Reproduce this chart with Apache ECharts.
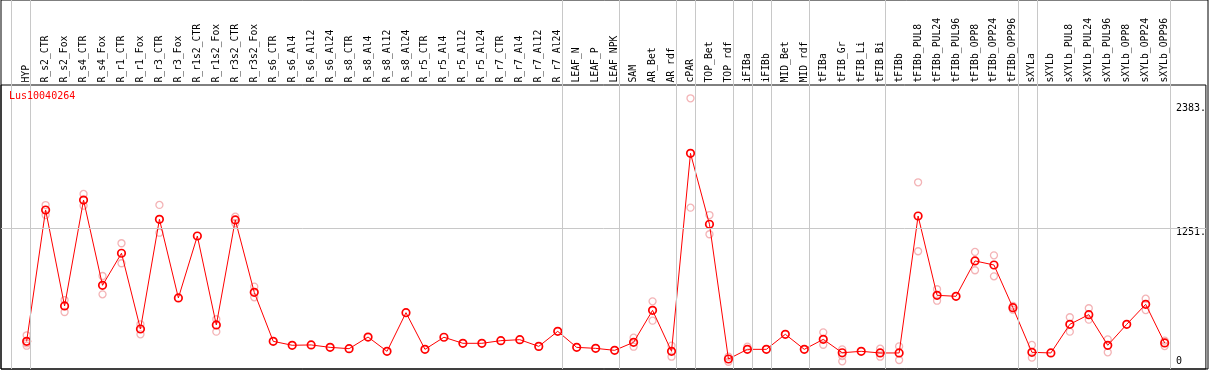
<!DOCTYPE html>
<html>
<head>
<meta charset="utf-8">
<script src="https://cdn.jsdelivr.net/npm/echarts@6/dist/echarts.min.js"></script>
<style>
html,body{margin:0;padding:0;background:#fff;}
#chart{width:1209px;height:370px;}
</style>
</head>
<body>
<div id="chart"></div>
<script>
const geneName = 'Lus10040264';
const categories = ['HYP','R_s2_CTR','R_s2_Fox','R_s4_CTR','R_s4_Fox','R_r1_CTR','R_r1_Fox','R_r3_CTR','R_r3_Fox','R_r1s2_CTR','R_r1s2_Fox','R_r3s2_CTR','R_r3s2_Fox','R_s6_CTR','R_s6_Al4','R_s6_Al12','R_s6_Al24','R_s8_CTR','R_s8_Al4','R_s8_Al12','R_s8_Al24','R_r5_CTR','R_r5_Al4','R_r5_Al12','R_r5_Al24','R_r7_CTR','R_r7_Al4','R_r7_Al12','R_r7_Al24','LEAF_N','LEAF_P','LEAF_NPK','SAM','AR_Bet','AR_rdf','cPAR','TOP_Bet','TOP_rdf','iFIBa','iFIBb','MID_Bet','MID_rdf','tFIBa','tFIB_Gr','tFIB_Li','tFIB_Bi','tFIBb','tFIBb_PUL8','tFIBb_PUL24','tFIBb_PUL96','tFIBb_OPP8','tFIBb_OPP24','tFIBb_OPP96','sXYLa','sXYLb','sXYLb_PUL8','sXYLb_PUL24','sXYLb_PUL96','sXYLb_OPP8','sXYLb_OPP24','sXYLb_OPP96'];
const meanValues = [222,1418,544,1508,732,1024,334,1333,617,1181,371,1327,668,222,186,189,167,155,261,131,483,149,259,204,204,228,237,176,313,167,158,140,213,504,131,1934,1288,61,149,149,286,149,240,118,131,116,116,1363,641,632,954,917,528,122,116,377,465,186,377,559,207];
const rep1 = [277,1463,598,1564,817,1115,377,1464,null,null,423,1357,720,null,null,null,null,null,null,null,null,null,null,null,null,null,null,null,null,null,null,null,255,586,182,2435,1372,82,173,null,null,null,304,149,null,155,176,1670,696,null,1036,1005,545,189,null,441,523,240,null,610,228];
const rep2 = [182,1372,489,1457,650,933,286,1211,null,null,310,1297,623,null,null,null,null,null,null,null,null,null,null,null,null,null,null,null,null,null,null,null,173,410,82,1439,1197,36,null,null,null,null,191,40,null,82,52,1042,592,null,869,814,510,73,null,310,419,122,null,507,179];
const rep3 = [204,null,null,null,null,null,null,null,null,null,null,null,null,null,null,null,null,null,null,null,null,null,null,null,null,null,null,null,null,null,null,null,null,null,null,null,null,null,null,null,null,null,null,88,null,null,null,null,null,null,null,null,null,null,null,null,null,null,null,null,null];
const groupStarts = [0,1,29,32,35,36,38,39,40,42,46,53,54,61];
const yTickValues = [0,1251,2383];
const refLineValue = 1251;

const X_MIN = -1.3526, X_MAX = 62.174;
const Y_MIN = -30, Y_MAX = 2556;
const SEP_OFFSET = -0.82;
const mono = 'DejaVu Sans Mono';

const meanData = meanValues.map((v,i)=>[i,v]);
const repData = [];
[rep1,rep2,rep3].forEach(arr=>arr.forEach((v,i)=>{ if(v!=null) repData.push([i,v]); }));

const chart = echarts.init(document.getElementById('chart'), null, {renderer:'canvas'});
chart.setOption({
  animation:false,
  backgroundColor:'#fff',
  title:{text:geneName,left:9,top:91,padding:0,textStyle:{color:'#ff0000',fontFamily:mono,fontSize:10,fontWeight:'normal'}},
  grid:[
    {left:1,right:1,top:0,bottom:1,show:true,borderColor:'#000',borderWidth:1,backgroundColor:'transparent'},
    {left:1,right:1,top:85,bottom:1,show:true,borderColor:'#000',borderWidth:1,backgroundColor:'transparent'}
  ],
  xAxis:[
    {gridIndex:0,type:'value',min:X_MIN,max:X_MAX,show:false},
    {gridIndex:1,type:'value',position:'top',min:X_MIN,max:X_MAX,
     axisLine:{show:false},axisTick:{show:false},splitLine:{show:false},
     axisLabel:{customValues:categories.map((c,i)=>i),rotate:90,margin:2.5,
       formatter:(v)=>categories[Math.round(v)]||'',
       fontFamily:mono,fontSize:9.75,color:'#000'}}
  ],
  yAxis:[
    {gridIndex:0,type:'value',min:0,max:1,show:false},
    {gridIndex:1,type:'value',position:'right',min:Y_MIN,max:Y_MAX,
     axisLine:{show:false},axisTick:{show:false},splitLine:{show:false},
     axisLabel:{customValues:yTickValues,inside:true,align:'left',margin:30,verticalAlign:'middle',
       formatter:(v)=> v===0 ? '{z|0}' : '{a|'+v+'.}',
       rich:{
         a:{fontFamily:mono,fontSize:10,color:'#000',padding:[8,0,0,0]},
         z:{fontFamily:mono,fontSize:10,color:'#000',padding:[0,0,8,0]}
       }}}
  ],
  series:[
    {type:'line',xAxisIndex:0,yAxisIndex:0,data:[[0,0.5]],symbol:'none',lineStyle:{opacity:0},silent:true,
     markLine:{silent:true,symbol:['none','none'],label:{show:false},
       lineStyle:{color:'#c8c8c8',type:'solid',width:1},
       data:groupStarts.map(i=>({xAxis:i+SEP_OFFSET}))}},
    {type:'scatter',xAxisIndex:1,yAxisIndex:1,data:repData,symbol:'circle',symbolSize:7,
     itemStyle:{color:'rgba(0,0,0,0)',borderColor:'#f0a0a4',borderWidth:1.3},z:2,
     markLine:{silent:true,symbol:['none','none'],label:{show:false},
       lineStyle:{color:'#c8c8c8',type:'solid',width:1},
       data:[{yAxis:refLineValue}]}},
    {type:'line',xAxisIndex:1,yAxisIndex:1,data:meanData,symbol:'circle',symbolSize:7.5,showSymbol:true,showAllSymbol:true,
     lineStyle:{color:'#ff0000',width:1},
     itemStyle:{color:'rgba(0,0,0,0)',borderColor:'#ff0000',borderWidth:1.7},z:3}
  ]
});
</script>
</body>
</html>
